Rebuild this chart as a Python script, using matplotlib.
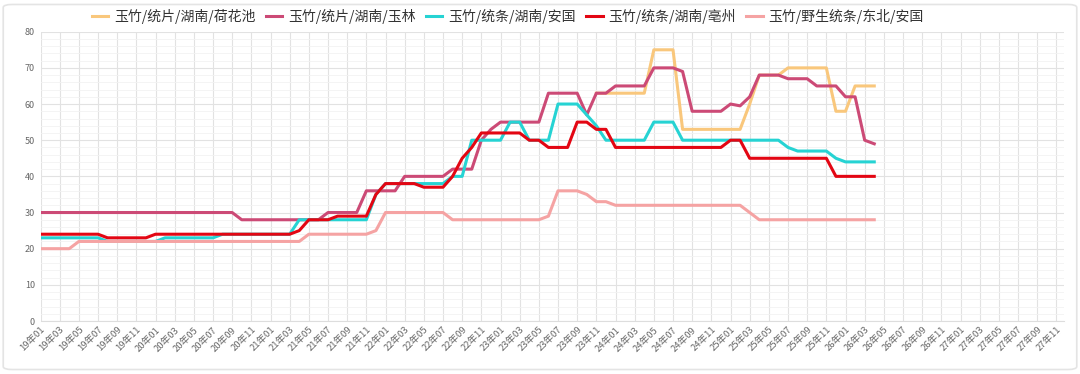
import numpy as np
import matplotlib.pyplot as plt
from matplotlib.patches import FancyBboxPatch

plt.rcParams['font.family'] = ['Noto Sans CJK SC', 'DejaVu Sans']

# Monthly data, 19年01 .. 26年04 (one row per year)
nan = np.nan
hehuachi = [nan] * 58 + [
    63, 63,
    63, 63, 63, 63, 75, 75, 75, 53, 53, 53, 53, 53,
    53, 53, 60, 68, 68, 68, 70, 70, 70, 70, 70, 58,
    58, 65, 65, 65,
]
yulin = [
    30, 30, 30, 30, 30, 30, 30, 30, 30, 30, 30, 30,
    30, 30, 30, 30, 30, 30, 30, 30, 30, 28, 28, 28,
    28, 28, 28, 28, 28, 28, 30, 30, 30, 30, 36, 36,
    36, 36, 40, 40, 40, 40, 40, 42, 42, 42, 50, 53,
    55, 55, 55, 55, 55, 63, 63, 63, 63, 57, 63, 63,
    65, 65, 65, 65, 70, 70, 70, 69, 58, 58, 58, 58,
    60, 59.5, 62, 68, 68, 68, 67, 67, 67, 65, 65, 65,
    62, 62, 50, 49,
]
anguo = [
    23, 23, 23, 23, 23, 23, 23, 22, 22, 22, 22, 22,
    22, 23, 23, 23, 23, 23, 23, 24, 24, 24, 24, 24,
    24, 24, 24, 28, 28, 28, 28, 28, 28, 28, 28, 35,
    38, 38, 38, 38, 38, 38, 38, 40, 40, 50, 50, 50,
    50, 55, 55, 50, 50, 50, 60, 60, 60, 57, 54, 50,
    50, 50, 50, 50, 55, 55, 55, 50, 50, 50, 50, 50,
    50, 50, 50, 50, 50, 50, 48, 47, 47, 47, 47, 45,
    44, 44, 44, 44,
]
bozhou = [
    24, 24, 24, 24, 24, 24, 24, 23, 23, 23, 23, 23,
    24, 24, 24, 24, 24, 24, 24, 24, 24, 24, 24, 24,
    24, 24, 24, 25, 28, 28, 28, 29, 29, 29, 29, 35,
    38, 38, 38, 38, 37, 37, 37, 40, 45, 48, 52, 52,
    52, 52, 52, 50, 50, 48, 48, 48, 55, 55, 53, 53,
    48, 48, 48, 48, 48, 48, 48, 48, 48, 48, 48, 48,
    50, 50, 45, 45, 45, 45, 45, 45, 45, 45, 45, 40,
    40, 40, 40, 40,
]
yesheng = [
    20, 20, 20, 20, 22, 22, 22, 22, 22, 22, 22, 22,
    22, 22, 22, 22, 22, 22, 22, 22, 22, 22, 22, 22,
    22, 22, 22, 22, 24, 24, 24, 24, 24, 24, 24, 25,
    30, 30, 30, 30, 30, 30, 30, 28, 28, 28, 28, 28,
    28, 28, 28, 28, 28, 29, 36, 36, 36, 35, 33, 33,
    32, 32, 32, 32, 32, 32, 32, 32, 32, 32, 32, 32,
    32, 32, 30, 28, 28, 28, 28, 28, 28, 28, 28, 28,
    28, 28, 28, 28,
]

series = ['玉竹/统片/湖南/荷花池', '玉竹/统片/湖南/玉林', '玉竹/统条/湖南/安国',
          '玉竹/统条/湖南/亳州', '玉竹/野生统条/东北/安国']
colors = ['#f9c77c', '#cc4a76', '#26d3d3', '#e30613', '#f5a3a3']

month_labels = [f'{y}年{m:02d}' for y in range(19, 28) for m in range(1, 13)][:107]

fig = plt.figure(figsize=(10.8, 3.74), dpi=100)
frame = FancyBboxPatch((0.003, 0.012), 0.994, 0.976,
                       boxstyle='round,pad=0,rounding_size=0.008',
                       transform=fig.transFigure, facecolor='white',
                       edgecolor='#e4e4e4', linewidth=1.2, zorder=-10)
fig.patches.append(frame)
ax = fig.add_axes([0.0375, 0.1417, 0.9477, 0.7735])
ax.set_facecolor('none')

for vals, name, c in zip([hehuachi, yulin, anguo, bozhou, yesheng], series, colors):
    ax.plot(np.arange(len(vals)), vals, color=c, lw=2.2, label=name, solid_joinstyle='round')

ax.set_xlim(0, 106.8)
ax.set_ylim(0, 80)
ax.set_yticks(range(0, 81, 10))
ax.set_yticks(range(0, 81, 2), minor=True)
ax.set_xticks(range(0, 107, 2))
ax.set_xticklabels(month_labels[::2], rotation=45, ha='right', va='top',
                   rotation_mode='anchor', fontsize=6.8, color='#666666')
ax.tick_params(axis='y', labelsize=6.5, labelcolor='#666666', length=0, pad=4)
ax.tick_params(axis='x', length=0, pad=3)
ax.tick_params(which='minor', length=0)
ax.grid(which='major', color='#e2e2e2', lw=0.8)
ax.grid(which='minor', axis='y', color='#f2f2f2', lw=0.6)
ax.set_axisbelow(True)
for s in ['top', 'right', 'left']:
    ax.spines[s].set_visible(False)
ax.spines['bottom'].set_color('#dddddd')

fig.legend(loc='center', bbox_to_anchor=(0.47, 0.955), ncol=5, frameon=False,
           fontsize=10, handlelength=1.2, handletextpad=0.4, columnspacing=0.75,
           labelcolor='#333333')

fig.savefig('out.png', dpi=100)
